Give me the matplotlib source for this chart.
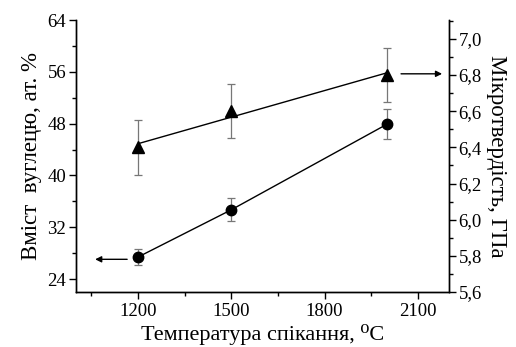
import numpy as np
import matplotlib
matplotlib.use("Agg")
import matplotlib.pyplot as plt
from matplotlib.ticker import MultipleLocator

# ==========================================
# DATA
# ==========================================
temperature = [1200, 1500, 2000]

carbon = [27.4, 34.7, 47.9]          # at. %
carbon_err = [1.3, 1.75, 2.3]

hardness = [6.40, 6.60, 6.80]        # GPa
hardness_err = [0.15, 0.15, 0.15]

plt.rcParams["font.family"] = ["Liberation Serif", "DejaVu Serif"]

fig = plt.figure(figsize=(5.16, 3.47), dpi=100)
ax = fig.add_axes([0.147, 0.1585, 0.723, 0.7835])
ax2 = ax.twinx()

# ==========================================
# CARBON CONTENT (left axis)
# ==========================================
ax.errorbar(temperature, carbon, yerr=carbon_err, fmt="none",
            ecolor="#777777", elinewidth=0.9, capsize=3, capthick=0.9, zorder=2)
ax.plot(temperature, carbon, color="black", linewidth=1.0,
        marker="o", markersize=7.5, zorder=3)

# ==========================================
# MICROHARDNESS (right axis) + linear fit
# ==========================================
ax2.errorbar(temperature, hardness, yerr=hardness_err, fmt="none",
             ecolor="#777777", elinewidth=0.9, capsize=3, capthick=0.9, zorder=2)
k, b = np.polyfit(temperature, hardness, 1)
t_fit = np.array([temperature[0], temperature[-1]])
ax2.plot(t_fit, k * t_fit + b, color="black", linewidth=1.0, zorder=3)
ax2.plot(temperature, hardness, linestyle="none", color="black",
         marker="^", markersize=8, zorder=4)

# arrows showing which axis belongs to which curve
ax.annotate("", xy=(1062, 27.05), xytext=(1165, 27.05),
            arrowprops=dict(arrowstyle="-|>", color="black", lw=1.0,
                            mutation_scale=9, shrinkA=0, shrinkB=0))
ax2.annotate("", xy=(2178, 6.807), xytext=(2046, 6.807),
             arrowprops=dict(arrowstyle="-|>", color="black", lw=1.0,
                             mutation_scale=9, shrinkA=0, shrinkB=0))

# ==========================================
# AXES
# ==========================================
ax.set_xlim(1000, 2200)
ax.set_ylim(22, 64)
ax2.set_ylim(5.6, 7.104)

ax.xaxis.set_major_locator(MultipleLocator(300))
ax.xaxis.set_minor_locator(MultipleLocator(150))
ax.yaxis.set_minor_locator(MultipleLocator(4))
ax.set_yticks([24, 32, 40, 48, 56, 64])
ax2.yaxis.set_major_locator(MultipleLocator(0.2))
ax2.yaxis.set_minor_locator(MultipleLocator(0.1))
ax2.yaxis.set_major_formatter(
    plt.FuncFormatter(lambda v, p: f"{v:.1f}".replace(".", ",")))

for a in (ax, ax2):
    a.spines["top"].set_visible(False)
    for s in a.spines.values():
        s.set_linewidth(1.0)
    a.tick_params(which="major", direction="out", length=5, width=1.0,
                  labelsize=13.5)
    a.tick_params(which="minor", direction="out", length=3, width=1.0)
ax.tick_params(axis="y", pad=2)
ax2.tick_params(axis="y", pad=2)
ax.tick_params(axis="x", pad=3)

ax.set_xlabel("Температура спікання, ⁰C", fontsize=16, va="bottom")
ax.xaxis.set_label_coords(0.5, -0.195)
ax.set_ylabel("Вміст  вуглецю, ат. %", fontsize=16.5, labelpad=4)
ax2.set_ylabel("Мікротвердість, ГПа", fontsize=16.5, rotation=270, labelpad=18)

fig.savefig("out.png", dpi=100)
